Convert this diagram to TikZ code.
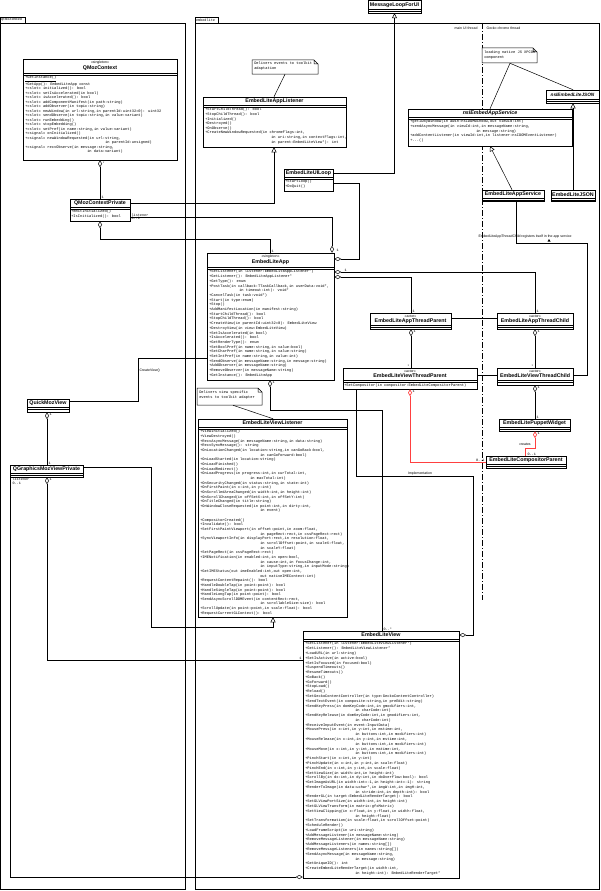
\documentclass[tikz,border=0pt]{standalone}
\usepackage{fontspec}
\setmainfont{Liberation Sans}
\newfontfamily\mymono{Liberation Mono}
\usetikzlibrary{arrows.meta,fit,calc}
\begin{document}
\begin{tikzpicture}[x=1pt,y=-1pt,line width=0.5pt,
  box/.style={draw,inner sep=0pt,fill=white,fit={#1}},
  mtx/.style={anchor=north west,inner sep=0pt,align=left,font=\mymono\fontsize{3.7}{#1}\selectfont},
  mtx/.default=4.7,
  ttl/.style={inner sep=0pt,font=\bfseries\fontsize{5.3}{6}\selectfont},
  ittl/.style={inner sep=0pt,font=\bfseries\itshape\fontsize{5.3}{6}\selectfont},
  ster/.style={inner sep=0pt,font=\fontsize{3.5}{4}\selectfont},
  lbl/.style={inner sep=0.3pt,font=\mymono\fontsize{3.5}{4}\selectfont},
  slbl/.style={inner sep=0.3pt,font=\fontsize{3.5}{4}\selectfont},
  inh/.style={-{Triangle[open,length=5pt,width=5pt]}},
  agg/.style={{Diamond[open,length=7pt,width=4pt]}-},
  aggend/.style={-{Diamond[open,length=7pt,width=4pt]}},
  redl/.style={draw=red!75!white,line width=0.7pt},
  note/.style={inner sep=0pt,fit={#1}}
]
\useasboundingbox (0,0) rectangle (600,891);
% ---------- packages ----------
\draw (0,17) rectangle (25,23);
\node[lbl,anchor=west] at (0.5,20) {qtmozembed};
\draw (0,23) rectangle (185,889);
\draw (195,17) rectangle (218,23);
\node[lbl,anchor=west] at (195.5,20) {embedlite};
\draw (195,23) rectangle (599,889);
% thread separator
\draw[dash pattern=on 6pt off 2pt on 1pt off 2pt] (482,23) -- (482,600);
\node[slbl,anchor=east] at (478,28) {main UI thread};
\node[slbl,anchor=west] at (486,28) {Gecko chrome thread};

% ---------- class boxes ----------
\node[box={(368,0)(421,13)}] (mlui) {};
\node[box={(23,59)(177,160)}] (qmc) {};
\node[box={(70,199)(130,221)}] (qcp) {};
\node[box={(203,97)(346,147)}] (alst) {};
\node[box={(284,169)(333,191)}] (uil) {};
\node[box={(207,253)(334,380)}] (app) {};
\node[box={(370,313)(451,329)}] (atp) {};
\node[box={(497,313)(573,329)}] (atc) {};
\node[box={(343,368)(477,389)}] (vtp) {};
\node[box={(497,368)(573,385)}] (vtc) {};
\node[box={(499,419)(570,431)}] (pw) {};
\node[box={(486,456)(566,468)}] (cp) {};
\node[box={(198,419)(347,617)}] (vlst) {};
\node[box={(303,631)(459,878)}] (view) {};
\node[box={(27,399)(69,412)}] (qmv) {};
\node[box={(10,465)(83,477)}] (qgp) {};
\node[box={(408,109)(572,146)}] (ias) {};
\node[box={(546,90)(599,103)}] (ijs) {};
\node[box={(482,190)(544,201)}] (eas) {};
\node[box={(551,190)(595,201)}] (ejs) {};

% ---------- notes ----------
\node[note={(252,60)(318,74)}] (n1) {};
\draw[fill=white] (252,60) -- (314,60) -- (318,64) -- (318,74) -- (252,74) -- cycle (314,60) -- (314,64) -- (318,64);
\node[mtx=4.6] at (254,62) {Delivers events to toolkit\\adaptation};
\node[note={(197,388)(262,405)}] (n2) {};
\draw[fill=white] (197,388) -- (258,388) -- (262,392) -- (262,405) -- (197,405) -- cycle (258,388) -- (258,392) -- (262,392);
\node[mtx=4.6] at (199,391) {Delivers view specific\\events to toolkit adapter};
\node[note={(482,48)(537,63)}] (n3) {};
\draw[fill=white] (482,48) -- (533,48) -- (537,52) -- (537,63) -- (482,63) -- cycle (533,48) -- (533,52) -- (537,52);
\node[mtx=4.6] at (484,51) {loading native JS XPCOM\\component};

% ---------- compartments & texts ----------
\node[ttl] at (394.5,5) {MessageLoopForUI};
\draw (368,9.5) -- (421,9.5) (368,11.5) -- (421,11.5);
\node[ster] at (100,63) {«singleton»};
\node[ttl] at (100,68.5) {QMozContext};
\draw (23,73) -- (177,73) (23,75) -- (177,75);
\node[mtx=4.5] at (25,76) {\underline{+GetInstance()}\\
+GetApp(): EmbedLiteApp const\\
+«slot» initialized(): bool\\
+«slot» setIsAccelerated(in bool)\\
+«slot» isAccelerated(): bool\\
+«slot» addComponentManifest(in path:string)\\
+«slot» addObserver(in topic:string)\\
+«slot» newWindow(in url:string,in parentId:uint32=0): uint32\\
+«slot» sendObserve(in topic:string,in value:variant)\\
+«slot» runEmbedding()\\
+«slot» stopEmbedding()\\
+«slot» setPref(in name:string,in value:variant)\\
+«signal» onInitialized()\\
+«signal» newWindowRequested(in url:string,\\
\hspace*{80pt}in parentId:unsigned)\\
+«signal» recvObserve(in message:string,\\
\hspace*{62pt}in data:variant)};
\node[ttl] at (100,203) {QMozContextPrivate};
\draw (70,207) -- (130,207) (70,209) -- (130,209);
\node[mtx=4.6] at (71,210) {+emitInitialized()\\+IsInitialized(): bool};
\node[ttl] at (274.5,101) {EmbedLiteAppListener};
\draw (203,105) -- (346,105) (203,107) -- (346,107);
\node[mtx=4.6] at (205,108) {+StartChildThread(): bool\\
+StopChildThread(): bool\\
+Initialized()\\
+Destroyed()\\
+OnObserve()\\
+CreateNewWindowRequested(in chromeFlags:int,\\
\hspace*{66pt}in uri:string,in contextFlags:int,\\
\hspace*{66pt}in parent:EmbedLiteView*): int};
\node[ttl] at (308.5,173) {EmbedLiteUILoop};
\draw (284,177) -- (333,177) (284,179) -- (333,179);
\node[mtx=4.6] at (285,180) {+StartLoop()\\+DoQuit()};
\node[ster] at (270.5,257) {«singleton»};
\node[ttl] at (270.5,262.5) {EmbedLiteApp};
\draw (207,267) -- (334,267) (207,269) -- (334,269);
\node[mtx=4.7] at (209,270) {+SetListener(in listener:EmbedLiteAppListener*)\\
+GetListener(): EmbedLiteAppListener*\\
+GetType(): enum\\
+PostTask(in callback:TTaskCallback,in userData:void*,\\
\hspace*{30pt}in timeout:int): void*\\
+CancelTask(in task:void*)\\
+Start(in type:enum)\\
+Stop()\\
+AddManifestLocation(in manifest:string)\\
+StartChildThread(): bool\\
+StopChildThread(): bool\\
+CreateView(in parentId:uint32=0): EmbedLiteView\\
+DestroyView(in view:EmbedLiteView)\\
+SetIsAccelerated(in bool)\\
+IsAccelerated(): bool\\
+GetRenderType(): enum\\
+SetBoolPref(in name:string,in value:bool)\\
+SetCharPref(in name:string,in value:string)\\
+SetIntPref(in name:string,in value:int)\\
+SendObserve(in messageName:string,in message:string)\\
+AddObserver(in messageName:string)\\
+RemoveObserver(in messageName:string)\\
+GetInstance(): EmbedLiteApp};
\node[ster] at (410.5,316) {«actor»};
\node[ttl] at (410.5,321) {EmbedLiteAppThreadParent};
\draw (370,325.5) -- (451,325.5) (370,327.5) -- (451,327.5);
\node[ster] at (535,316) {«actor»};
\node[ttl] at (535,321) {EmbedLiteAppThreadChild};
\draw (497,325.5) -- (573,325.5) (497,327.5) -- (573,327.5);
\node[ster] at (410,371) {«actor»};
\node[ttl] at (410,376) {EmbedLiteViewThreadParent};
\draw (343,380) -- (477,380) (343,382) -- (477,382);
\node[mtx=4.6] at (344,383.3) {+SetCompositor(in compositor:EmbedLiteCompositorParent)};
\node[ster] at (535,371) {«actor»};
\node[ttl] at (535,376) {EmbedLiteViewThreadChild};
\draw (497,380.5) -- (573,380.5) (497,382.5) -- (573,382.5);
\node[ttl] at (534.5,423.5) {EmbedLitePuppetWidget};
\draw (499,427.5) -- (570,427.5) (499,429.5) -- (570,429.5);
\node[ttl] at (526,460.5) {EmbedLiteCompositorParent};
\draw (486,464.5) -- (566,464.5) (486,466.5) -- (566,466.5);
\node[ttl] at (272.5,423) {EmbedLiteViewListener};
\draw (198,427) -- (347,427) (198,429) -- (347,429);
\node[mtx=4.65] at (200,430) {+ViewInitialized()\\
+ViewDestroyed()\\
+RecvAsyncMessage(in messageName:string,in data:string)\\
+RecvSyncMessage(): string\\
+OnLocationChanged(in location:string,in canGoBack:bool,\\
\hspace*{60pt}in canGoForward:bool)\\
+OnLoadStarted(in location:string)\\
+OnLoadFinished()\\
+OnLoadRedirect()\\
+OnLoadProgress(in progress:int,in curTotal:int,\\
\hspace*{50pt}in maxTotal:int)\\
+OnSecurityChanged(in status:string,in state:int)\\
+OnFirstPaint(in x:int,in y:int)\\
+OnScrolledAreaChanged(in width:int,in height:int)\\
+OnScrollChanged(in offSetX:int,in offSetY:int)\\
+OnTitleChanged(in title:string)\\
+OnWindowCloseRequested(in point:int,in dirty:int,\\
\hspace*{60pt}in event)\\
\\
+CompositorCreated()\\
+Invalidate(): bool\\
+SetFirstPaintViewport(in offset:point,in zoom:float,\\
\hspace*{60pt}in pageRect:rect,in cssPageRect:rect)\\
+SyncViewportInfo(in displayPort:rect,in resolution:float,\\
\hspace*{60pt}in scrollOffset:point,in scaleX:float,\\
\hspace*{60pt}in scaleY:float)\\
+SetPageRect(in cssPageRect:rect)\\
+IMENotification(in enabled:int,in open:bool,\\
\hspace*{60pt}in cause:int,in focusChange:int,\\
\hspace*{60pt}in inputType:string,in inputMode:string)\\
+GetIMEStatus(out imeEnabled:int,out open:int,\\
\hspace*{60pt}out nativeIMEContext:int)\\
+RequestContentRepaint(): bool\\
+HandleDoubleTap(in point:point): bool\\
+HandleSingleTap(in point:point): bool\\
+HandleLongTap(in point:point): bool\\
+SendAsyncScrollDOMEvent(in contentRect:rect,\\
\hspace*{60pt}in scrollableSize:size): bool\\
+ScrollUpdate(in point:point,in scale:float): bool\\
+RequestCurrentGLContext(): bool};
\node[ttl] at (381,635) {EmbedLiteView};
\draw (303,639) -- (459,639) (303,641) -- (459,641);
\node[mtx=4.78] at (305,642) {+SetListener(in listener:EmbedLiteViewListener*)\\
+GetListener(): EmbedLiteViewListener*\\
+LoadURL(in url:string)\\
+SetIsActive(in active:bool)\\
+SetIsFocused(in focused:bool)\\
+SuspendTimeouts()\\
+ResumeTimeouts()\\
+GoBack()\\
+GoForward()\\
+StopLoad()\\
+Reload()\\
+SetGeckoContentController(in type:GeckoContentController)\\
+SendTextEvent(in composite:string,in preEdit:string)\\
+SendKeyPress(in domKeyCode:int,in gmodifiers:int,\\
\hspace*{50pt}in charCode:int)\\
+SendKeyRelease(in domKeyCode:int,in gmodifiers:int,\\
\hspace*{50pt}in charCode:int)\\
+ReceiveInputEvent(in event:InputData)\\
+MousePress(in x:int,in y:int,in mstime:int,\\
\hspace*{50pt}in buttons:int,in modifiers:int)\\
+MouseRelease(in x:int,in y:int,in mstime:int,\\
\hspace*{50pt}in buttons:int,in modifiers:int)\\
+MouseMove(in x:int,in y:int,in mstime:int,\\
\hspace*{50pt}in buttons:int,in modifiers:int)\\
+PinchStart(in x:int,in y:int)\\
+PinchUpdate(in x:int,in y:int,in scale:float)\\
+PinchEnd(in x:int,in y:int,in scale:float)\\
+SetViewSize(in width:int,in height:int)\\
+ScrollBy(in dx:int,in dy:int,in doOverflow:bool): bool\\
+GetImageAsURL(in width:int=-1,in height:int=-1): string\\
+RenderToImage(in data:uchar*,in imgW:int,in imgH:int,\\
\hspace*{50pt}in stride:int,in depth:int): bool\\
+RenderGL(in target:EmbedLiteRenderTarget): bool\\
+SetGLViewPortSize(in width:int,in height:int)\\
+SetGLViewTransform(in matrix:gfxMatrix)\\
+SetViewClipping(in x:float,in y:float,in width:float,\\
\hspace*{50pt}in height:float)\\
+SetTransformation(in scale:float,in scrollOffset:point)\\
+ScheduleRender()\\
+LoadFrameScript(in uri:string)\\
+AddMessageListener(in messageName:string)\\
+RemoveMessageListener(in messageName:string)\\
+AddMessageListeners(in names:string[])\\
+RemoveMessageListeners(in names:string[])\\
+SendAsyncMessage(in messageName:string,\\
\hspace*{50pt}in message:string)\\
+GetUniqueID(): int\\
+CreateEmbedLiteRenderTarget(in width:int,\\
\hspace*{50pt}in height:int): EmbedLiteRenderTarget*};
\node[ttl] at (48,403) {QuickMozView};
\draw (27,407.5) -- (69,407.5) (27,409.5) -- (69,409.5);
\node[ttl] at (46.5,469) {QGraphicsMozViewPrivate};
\draw (10,473) -- (83,473) (10,475) -- (83,475);
\node[ittl] at (490,113) {nsIEmbedAppService};
\draw (408,117) -- (572,117) (408,119) -- (572,119);
\node[mtx=4.6] at (410,120) {+getIDByWindow(in aWin:nsIDOMWindow,out viewId:int)\\
+sendAsyncMessage(in viewId:int,in messageName:string,\\
\hspace*{66pt}in message:string)\\
+addContentListener(in viewId:int,in listener:nsIDOMEventListener)\\
+...()};
\node[ittl,font=\bfseries\itshape\fontsize{4.7}{6}\selectfont] at (572.5,94.5) {nsIEmbedLiteJSON};
\draw (546,99) -- (599,99) (546,101) -- (599,101);
\node[ttl] at (513,194.5) {EmbedLiteAppService};
\draw (482,198) -- (544,198) (482,200) -- (544,200);
\node[ttl] at (573,194.5) {EmbedLiteJSON};
\draw (551,198) -- (595,198) (551,200) -- (595,200);

% ---------- connectors ----------
\draw[inh] (uil.east |- 0,173) -| (mlui.south);
\draw[aggend] (uil.east |- 0,183) -- (359,183) -- (359,259) -- (app.east |- 0,259);
\draw[inh] (qcp.east |- 0,203) -- (274,203) -- (alst.south -| 274,0);
\draw[aggend] (qcp.east |- 0,217) -- (332,217) -- (app.north -| 332,0);
\node[lbl,anchor=south west] at (131,217) {listener};
\node[lbl,anchor=north west] at (131,217) {0..1};
\node[lbl,anchor=west] at (336,250) {1};
\draw[agg] (qcp.south) -- (100,239) -- (270,239) -- (app.north -| 270,0);
\node[lbl,anchor=south west] at (271,253) {1};
\draw[agg] (qmc.south) -- (qcp.north);
\node[lbl,anchor=west] at (102,163) {*};
\node[lbl,anchor=south west] at (101,199) {1};
\draw (n1.south -| 285,0) -- (alst.north -| 274,0);
\draw[agg] (app.east |- 0,272) -- (535,272) -- (atc.north -| 535,0);
\node[lbl,anchor=south west] at (344,272) {1};
\node[lbl,anchor=south west] at (536,313) {1};
\draw[agg] (app.east |- 0,277) -- (411,277) -- (atp.north -| 411,0);
\node[lbl,anchor=south west] at (412,313) {1};
\draw (atp.east |- 0,318) -- (atc.west |- 0,318);
\draw[agg] (atp.south -| 411,0) -- (vtp.north -| 411,0);
\node[lbl,anchor=north west] at (413,330) {1};
\node[lbl,anchor=south east] at (410,368) {*};
\draw[agg] (atc.south -| 535,0) -- (vtc.north -| 535,0);
\node[lbl,anchor=north west] at (537,330) {1};
\node[lbl,anchor=south east] at (534,368) {*};
\draw (vtp.east |- 0,375) -- (vtc.west |- 0,375);
\draw (vtc.east |- 0,375) -- (587,375) -- (587,243) -- (516,243) -- (eas.south -| 516,0);
\node[slbl] at (525,236.5) {EmbedLiteAppThreadChild registers itself in the app service};
\fill (549,239) -- (547.5,241.5) -- (550.5,241.5) -- cycle;
\draw[agg] (vtc.south -| 535,0) -- (pw.north -| 535,0);
\node[lbl,anchor=north west] at (537,386) {1};
\node[lbl,anchor=south west] at (536,419) {1};
\draw[agg,redl] (pw.south -| 535,0) -- (535,448) -- (525,448) -- (cp.north -| 525,0);
\node[lbl,anchor=north west] at (537,432) {1};
\node[slbl] at (525,444) {creates};
\node[lbl,anchor=south west] at (527,456) {0..1};
\draw[agg,redl] (vtp.south -| 410,0) -- (410,462) -- (cp.west |- 0,462);
\node[lbl,anchor=north west] at (412,390) {1};
\node[lbl,anchor=south east] at (485,462) {0..1};
\draw[aggend] (vtp.south -| 356,0) -- (356,476) -- (473,476) -- (473,635) -- (view.east |- 0,635);
\node[slbl,anchor=south] at (420,475.5) {Implementation};
\draw[agg] (app.south -| 270,0) -- (270,410) -- (382,410) -- (view.north -| 382,0);
\node[lbl,anchor=north west] at (272,381) {1};
\node[lbl,anchor=south west] at (383,631) {0..*};
\draw (n2.south -| 233,0) -- (vlst.north -| 273,0);
\draw (qmv.east |- 0,401) -- (138,401) -- (138,358) -- (app.west |- 0,358);
\node[slbl,anchor=south west] at (139,373) {CreateView()};
\draw[agg] (qmv.south -| 47,0) -- (qgp.north -| 47,0);
\node[lbl,anchor=north west] at (49,413) {1};
\node[lbl,anchor=south west] at (48,465) {1};
\draw[aggend] (qgp.south -| 10,0) -- (10,877) -- (view.west |- 0,877);
\node[lbl,anchor=north west] at (12,477.5) {listener};
\node[lbl,anchor=north west] at (12,482) {0..1};
\draw[agg] (qgp.south -| 47,0) -- (47,660) -- (view.west |- 0,660);
\node[lbl,anchor=north west] at (49,478) {1};
\node[lbl,anchor=south east] at (302,660) {1};
\draw[inh] (qgp.east |- 0,467) -- (151,467) -- (151,627) -- (273,627) -- (vlst.south -| 273,0);
\draw[inh] (eas.north -| 512,0) -- (ias.south -| 490,0);
\draw[inh] (ejs.north -| 573,0) -- (ijs.south -| 573,0);
\draw (n3.south -| 510,0) -- (ias.north -| 490,0);
\draw (n3.south -| 510,0) -- (ijs.north -| 573,0);
\end{tikzpicture}
\end{document}
